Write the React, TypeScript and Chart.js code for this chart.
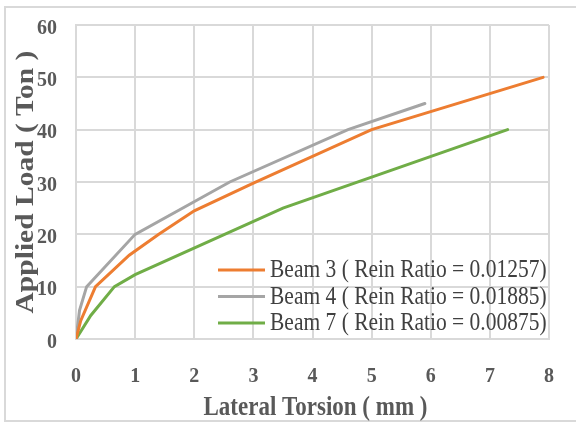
import React, { useEffect, useRef } from "react";
import { Chart, registerables } from "chart.js";

Chart.register(...registerables);

// Axis ticks
const torsionTicks = [0, 1, 2, 3, 4, 5, 6, 7, 8];
const loadTicks = [0, 10, 20, 30, 40, 50, 60];

// Beam 3
const beam3Torsion = [0, 0.08, 0.33, 0.9, 1.4, 2.0, 3.0, 5.0, 7.9];
const beam3Load = [0, 3.5, 10, 16, 20, 24.5, 29.8, 40, 50];

// Beam 4
const beam4Torsion = [0, 0.06, 0.18, 1.0, 2.6, 4.6, 5.9];
const beam4Load = [0, 5.5, 10, 20, 30, 40, 45];

// Beam 7
const beam7Torsion = [0, 0.25, 0.65, 1.0, 3.5, 7.3];
const beam7Load = [0, 4.5, 10, 12.3, 25, 40];

const seriesLabels = [
  "Beam 3 ( Rein Ratio = 0.01257)",
  "Beam 4 ( Rein Ratio = 0.01885)",
  "Beam 7 ( Rein Ratio = 0.00875)",
];
const seriesColors = ["#ED7D31", "#A5A5A5", "#70AD47"];

const xTitle = "Lateral Torsion ( mm )";
const yTitle = "Applied Load ( Ton )";

const SERIF = "'Liberation Serif', 'Times New Roman', serif";
const TEXT_COLOR = "#595959";
const GRID_COLOR = "#d9d9d9";

function toPoints(xs: number[], ys: number[]) {
  return xs.map((x, i) => ({ x, y: ys[i] }));
}

// Draws text with an optional vertical stretch (or stretch along the text
// direction when rotated).
function drawText(
  ctx: CanvasRenderingContext2D,
  text: string,
  x: number,
  y: number,
  font: string,
  color: string,
  align: CanvasTextAlign,
  baseline: CanvasTextBaseline,
  stretch: number,
  rotated = false
) {
  ctx.save();
  ctx.translate(x, y);
  if (rotated) {
    ctx.rotate(-Math.PI / 2);
    ctx.scale(stretch, 1);
  } else {
    ctx.scale(1, stretch);
  }
  ctx.font = font;
  ctx.fillStyle = color;
  ctx.textAlign = align;
  ctx.textBaseline = baseline;
  ctx.fillText(text, 0, 0);
  ctx.restore();
}

const labelsPlugin = {
  id: "labelsPlugin",
  afterDraw(chart: any) {
    const { ctx, chartArea, scales } = chart;
    const xs = scales.x;
    const ys = scales.y;

    // tick labels
    const tickFont = `bold 20px ${SERIF}`;
    torsionTicks.forEach((v) => {
      drawText(ctx, String(v), xs.getPixelForValue(v), chartArea.bottom + 42.5, tickFont, TEXT_COLOR, "center", "alphabetic", 1.1);
    });
    loadTicks.forEach((v) => {
      drawText(ctx, String(v), chartArea.left - 19, ys.getPixelForValue(v) + 8.5, tickFont, TEXT_COLOR, "right", "alphabetic", 1.1);
    });

    // axis titles
    drawText(ctx, xTitle, (chartArea.left + chartArea.right) / 2 + 3, chartArea.bottom + 76, `bold 23px ${SERIF}`, TEXT_COLOR, "center", "alphabetic", 1.17);
    drawText(ctx, yTitle, 33, (chartArea.top + chartArea.bottom) / 2, `bold 25px ${SERIF}`, TEXT_COLOR, "center", "alphabetic", 1.18, true);

    // legend inside the plot area
    const legendFont = `21.5px ${SERIF}`;
    chart.data.datasets.forEach((ds: any, i: number) => {
      const rowY = chartArea.bottom - 16 - (chart.data.datasets.length - 1 - i) * 26.5;
      const x0 = chartArea.left + 142;
      ctx.save();
      ctx.strokeStyle = ds.borderColor;
      ctx.lineWidth = 3;
      ctx.beginPath();
      ctx.moveTo(x0, rowY);
      ctx.lineTo(x0 + 47, rowY);
      ctx.stroke();
      ctx.restore();
      drawText(ctx, ds.label, x0 + 52, rowY + 7, legendFont, "#404040", "left", "alphabetic", 1.15);
    });
  },
};

export default function App() {
  const canvasRef = useRef<HTMLCanvasElement | null>(null);

  useEffect(() => {
    if (!canvasRef.current) return;
    const chart = new Chart(canvasRef.current, {
      type: "line",
      data: {
        datasets: [
          { label: seriesLabels[0], data: toPoints(beam3Torsion, beam3Load), borderColor: seriesColors[0] },
          { label: seriesLabels[1], data: toPoints(beam4Torsion, beam4Load), borderColor: seriesColors[1] },
          { label: seriesLabels[2], data: toPoints(beam7Torsion, beam7Load), borderColor: seriesColors[2] },
        ].map((d) => ({
          ...d,
          backgroundColor: d.borderColor,
          borderWidth: 3,
          pointRadius: 0,
          tension: 0,
          fill: false,
          borderCapStyle: "round" as const,
        })),
      },
      options: {
        responsive: false,
        animation: false,
        layout: { padding: { left: 0, top: 25, right: 27, bottom: 0 } },
        plugins: {
          legend: { display: false },
          tooltip: { enabled: false },
        },
        scales: {
          x: {
            type: "linear",
            min: 0,
            max: 8,
            ticks: { stepSize: 1, display: false },
            grid: { color: GRID_COLOR, lineWidth: 2, drawTicks: false },
            border: { color: GRID_COLOR, width: 2 },
            afterFit: (scale: any) => {
              scale.height = 85;
            },
          },
          y: {
            type: "linear",
            min: 0,
            max: 60,
            ticks: { stepSize: 10, display: false },
            grid: { color: GRID_COLOR, lineWidth: 2, drawTicks: false },
            border: { color: GRID_COLOR, width: 2 },
            afterFit: (scale: any) => {
              scale.width = 76;
            },
          },
        },
      },
      plugins: [labelsPlugin],
    });
    return () => chart.destroy();
  }, []);

  return (
    <div style={{ position: "fixed", left: 0, top: 0, width: 576, height: 424, background: "#fff", overflow: "hidden" }}>
      <div
        style={{
          position: "absolute",
          left: 4,
          top: 6,
          width: 620,
          height: 416,
          boxSizing: "border-box",
          border: `2px solid ${GRID_COLOR}`,
        }}
      />
      <canvas ref={canvasRef} width={576} height={424} style={{ position: "absolute", left: 0, top: 0 }} />
    </div>
  );
}
